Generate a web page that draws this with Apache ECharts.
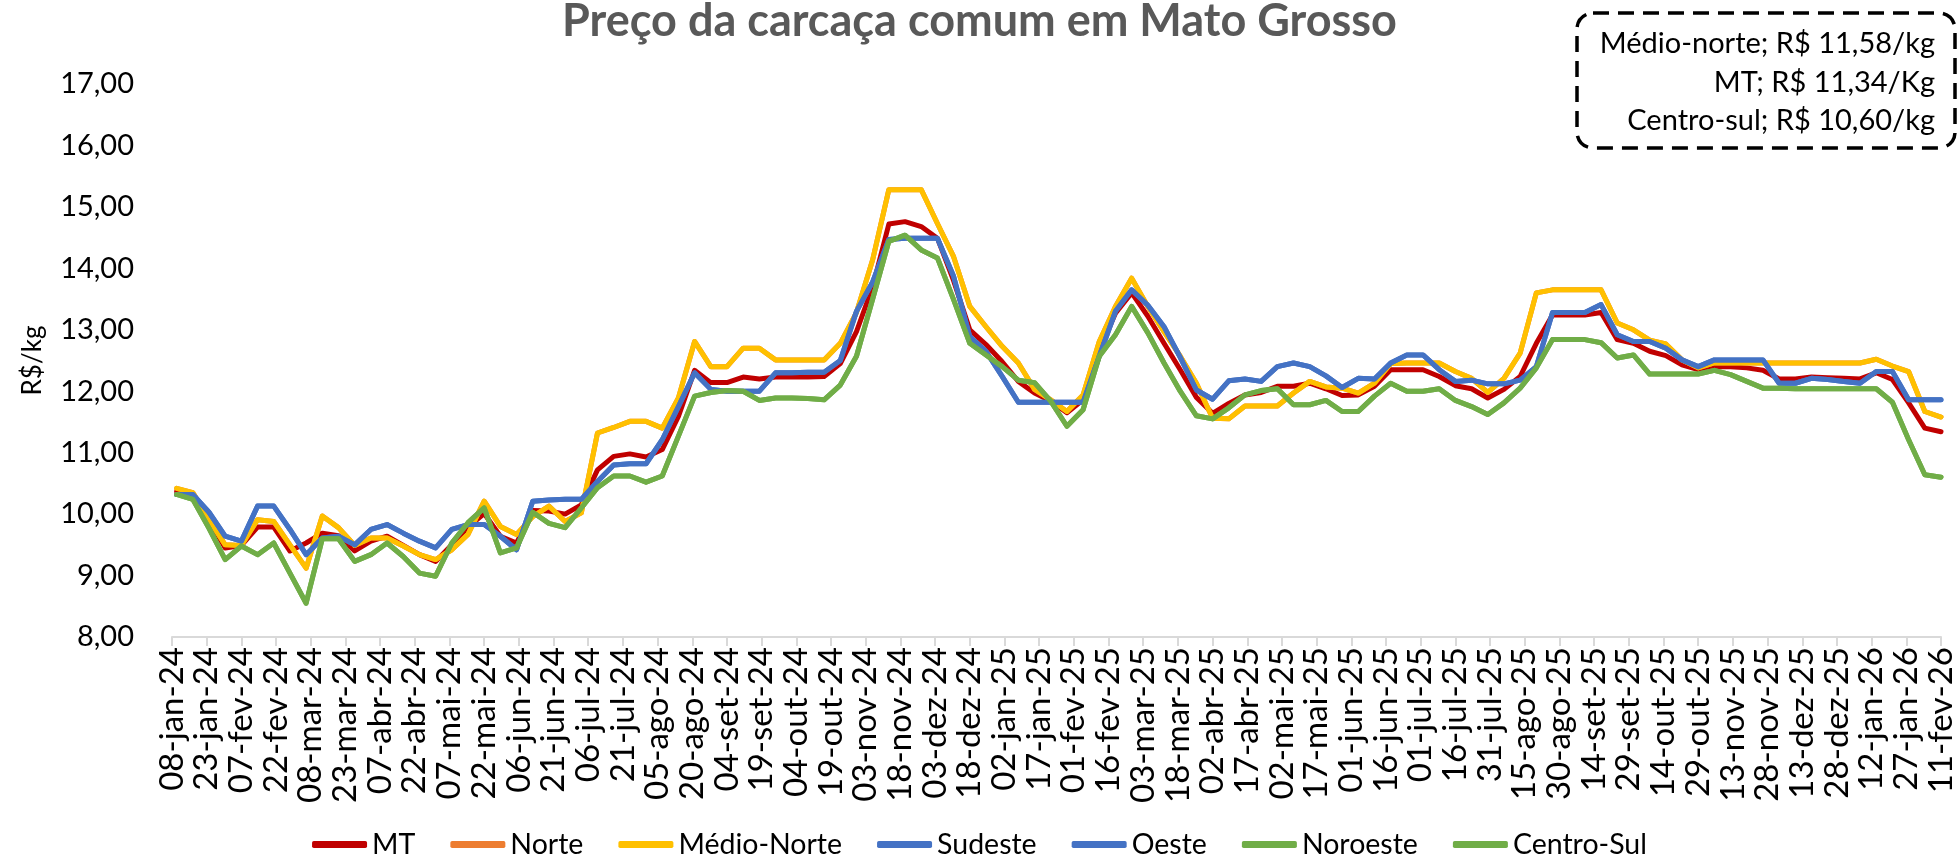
<!DOCTYPE html>
<html>
<head>
<meta charset="utf-8">
<script src="https://cdn.jsdelivr.net/npm/echarts@6/dist/echarts.min.js"></script>
<style>
html, body { margin: 0; padding: 0; background: #fff; }
#chartLine { width: 1959px; height: 860px; }
</style>
</head>
<body>
<div id="chartLine"></div>
<script>
// semanas (quartas-feiras) de 10-jan-24 a 11-fev-26
const dates = [
  '2024-01-10','2024-01-17','2024-01-24','2024-01-31','2024-02-07','2024-02-14','2024-02-21','2024-02-28','2024-03-06','2024-03-13',
  '2024-03-20','2024-03-27','2024-04-03','2024-04-10','2024-04-17','2024-04-24','2024-05-01','2024-05-08','2024-05-15','2024-05-22',
  '2024-05-29','2024-06-05','2024-06-12','2024-06-19','2024-06-26','2024-07-03','2024-07-10','2024-07-17','2024-07-24','2024-07-31',
  '2024-08-07','2024-08-14','2024-08-21','2024-08-28','2024-09-04','2024-09-11','2024-09-18','2024-09-25','2024-10-02','2024-10-09',
  '2024-10-16','2024-10-23','2024-10-30','2024-11-06','2024-11-13','2024-11-20','2024-11-27','2024-12-04','2024-12-11','2024-12-18',
  '2024-12-25','2025-01-01','2025-01-08','2025-01-15','2025-01-22','2025-01-29','2025-02-05','2025-02-12','2025-02-19','2025-02-26',
  '2025-03-05','2025-03-12','2025-03-19','2025-03-26','2025-04-02','2025-04-09','2025-04-16','2025-04-23','2025-04-30','2025-05-07',
  '2025-05-14','2025-05-21','2025-05-28','2025-06-04','2025-06-11','2025-06-18','2025-06-25','2025-07-02','2025-07-09','2025-07-16',
  '2025-07-23','2025-07-30','2025-08-06','2025-08-13','2025-08-20','2025-08-27','2025-09-03','2025-09-10','2025-09-17','2025-09-24',
  '2025-10-01','2025-10-08','2025-10-15','2025-10-22','2025-10-29','2025-11-05','2025-11-12','2025-11-19','2025-11-26','2025-12-03',
  '2025-12-10','2025-12-17','2025-12-24','2025-12-31','2026-01-07','2026-01-14','2026-01-21','2026-01-28','2026-02-04','2026-02-11'
]

const mt = [
  10.37,10.33,9.91,9.45,9.49,9.79,9.79,9.40,9.53,9.69,
  9.65,9.40,9.56,9.64,9.49,9.34,9.23,9.50,9.79,10.01,
  9.64,9.53,10.06,10.05,10.00,10.15,10.72,10.94,10.98,10.93,
  11.05,11.59,12.34,12.14,12.14,12.23,12.20,12.23,12.23,12.23,
  12.24,12.45,12.97,13.70,14.72,14.76,14.68,14.49,13.80,13.00,
  12.76,12.48,12.16,11.97,11.84,11.65,11.86,12.67,13.27,13.60,
  13.22,12.78,12.35,11.90,11.64,11.80,11.94,11.98,12.08,12.08,
  12.13,12.04,11.93,11.94,12.08,12.35,12.35,12.35,12.24,12.09,
  12.04,11.89,12.03,12.24,12.78,13.24,13.24,13.24,13.28,12.84,
  12.78,12.65,12.58,12.43,12.35,12.40,12.40,12.38,12.34,12.20,
  12.20,12.23,12.22,12.21,12.20,12.30,12.19,11.81,11.40,11.34
]
const norte = [
  10.42,10.35,9.91,9.50,9.49,9.91,9.88,9.50,9.12,9.97,
  9.78,9.49,9.61,9.61,9.48,9.34,9.26,9.42,9.67,10.21,
  9.80,9.67,9.96,10.13,9.88,10.02,11.32,11.41,11.51,11.51,
  11.40,11.89,12.81,12.40,12.40,12.70,12.70,12.51,12.51,12.51,
  12.51,12.78,13.28,14.14,15.28,15.28,15.28,14.73,14.19,13.38,
  13.05,12.73,12.46,12.03,11.86,11.67,11.94,12.81,13.38,13.84,
  13.38,12.97,12.57,12.13,11.56,11.55,11.76,11.76,11.76,11.97,
  12.16,12.07,12.05,11.97,12.13,12.45,12.46,12.46,12.46,12.32,
  12.21,11.98,12.21,12.62,13.60,13.65,13.65,13.65,13.65,13.11,
  13.00,12.83,12.77,12.51,12.38,12.46,12.46,12.46,12.46,12.46,
  12.46,12.46,12.46,12.46,12.46,12.52,12.41,12.32,11.67,11.58
]
const medioNorte = [
  10.42,10.35,9.91,9.50,9.49,9.91,9.88,9.50,9.12,9.97,
  9.78,9.49,9.61,9.61,9.48,9.34,9.26,9.42,9.67,10.21,
  9.80,9.67,9.96,10.13,9.88,10.02,11.32,11.41,11.51,11.51,
  11.40,11.89,12.81,12.40,12.40,12.70,12.70,12.51,12.51,12.51,
  12.51,12.78,13.28,14.14,15.28,15.28,15.28,14.73,14.19,13.38,
  13.05,12.73,12.46,12.03,11.86,11.67,11.94,12.81,13.38,13.84,
  13.38,12.97,12.57,12.13,11.56,11.55,11.76,11.76,11.76,11.97,
  12.16,12.07,12.05,11.97,12.13,12.45,12.46,12.46,12.46,12.32,
  12.21,11.98,12.21,12.62,13.60,13.65,13.65,13.65,13.65,13.11,
  13.00,12.83,12.77,12.51,12.38,12.46,12.46,12.46,12.46,12.46,
  12.46,12.46,12.46,12.46,12.46,12.52,12.41,12.32,11.67,11.58
]
const sudeste = [
  10.32,10.32,10.03,9.64,9.56,10.13,10.13,9.75,9.34,9.61,
  9.64,9.50,9.75,9.83,9.69,9.56,9.45,9.75,9.83,9.83,
  9.64,9.42,10.21,10.23,10.24,10.24,10.53,10.80,10.82,10.82,
  11.21,11.75,12.30,12.03,12.00,12.00,12.00,12.30,12.30,12.31,
  12.31,12.50,13.30,13.78,14.47,14.49,14.49,14.49,13.87,12.89,
  12.65,12.24,11.82,11.82,11.82,11.82,11.82,12.57,13.30,13.65,
  13.40,13.05,12.55,12.02,11.87,12.17,12.20,12.16,12.40,12.46,
  12.40,12.25,12.06,12.21,12.20,12.46,12.59,12.59,12.35,12.16,
  12.18,12.12,12.12,12.18,12.40,13.28,13.28,13.28,13.41,12.92,
  12.81,12.81,12.70,12.51,12.40,12.51,12.51,12.51,12.51,12.13,
  12.13,12.21,12.19,12.16,12.13,12.32,12.32,11.86,11.86,11.86
]
const oeste = [
  10.32,10.32,10.03,9.64,9.56,10.13,10.13,9.75,9.34,9.61,
  9.64,9.50,9.75,9.83,9.69,9.56,9.45,9.75,9.83,9.83,
  9.64,9.42,10.21,10.23,10.24,10.24,10.53,10.80,10.82,10.82,
  11.21,11.75,12.30,12.03,12.00,12.00,12.00,12.30,12.30,12.31,
  12.31,12.50,13.30,13.78,14.47,14.49,14.49,14.49,13.87,12.89,
  12.65,12.24,11.82,11.82,11.82,11.82,11.82,12.57,13.30,13.65,
  13.40,13.05,12.55,12.02,11.87,12.17,12.20,12.16,12.40,12.46,
  12.40,12.25,12.06,12.21,12.20,12.46,12.59,12.59,12.35,12.16,
  12.18,12.12,12.12,12.18,12.40,13.28,13.28,13.28,13.41,12.92,
  12.81,12.81,12.70,12.51,12.40,12.51,12.51,12.51,12.51,12.13,
  12.13,12.21,12.19,12.16,12.13,12.32,12.32,11.86,11.86,11.86
]
const noroeste = [
  10.32,10.24,9.77,9.26,9.48,9.34,9.53,9.04,8.55,9.60,
  9.60,9.23,9.34,9.53,9.31,9.04,8.99,9.53,9.86,10.10,
  9.37,9.45,10.03,9.85,9.78,10.10,10.43,10.62,10.62,10.52,
  10.62,11.27,11.92,11.98,12.01,12.00,11.85,11.89,11.89,11.88,
  11.86,12.10,12.57,13.50,14.44,14.54,14.30,14.17,13.49,12.78,
  12.59,12.40,12.18,12.14,11.84,11.43,11.70,12.57,12.92,13.38,
  12.95,12.46,12.00,11.60,11.55,11.73,11.94,12.01,12.04,11.78,
  11.78,11.85,11.67,11.67,11.92,12.13,12.00,12.00,12.04,11.85,
  11.75,11.62,11.81,12.05,12.38,12.84,12.84,12.84,12.79,12.54,
  12.59,12.28,12.28,12.28,12.28,12.34,12.27,12.16,12.05,12.05,
  12.04,12.04,12.04,12.04,12.04,12.04,11.82,11.21,10.64,10.60
]
const centroSul = [
  10.32,10.24,9.77,9.26,9.48,9.34,9.53,9.04,8.55,9.60,
  9.60,9.23,9.34,9.53,9.31,9.04,8.99,9.53,9.86,10.10,
  9.37,9.45,10.03,9.85,9.78,10.10,10.43,10.62,10.62,10.52,
  10.62,11.27,11.92,11.98,12.01,12.00,11.85,11.89,11.89,11.88,
  11.86,12.10,12.57,13.50,14.44,14.54,14.30,14.17,13.49,12.78,
  12.59,12.40,12.18,12.14,11.84,11.43,11.70,12.57,12.92,13.38,
  12.95,12.46,12.00,11.60,11.55,11.73,11.94,12.01,12.04,11.78,
  11.78,11.85,11.67,11.67,11.92,12.13,12.00,12.00,12.04,11.85,
  11.75,11.62,11.81,12.05,12.38,12.84,12.84,12.84,12.79,12.54,
  12.59,12.28,12.28,12.28,12.28,12.34,12.27,12.16,12.05,12.05,
  12.04,12.04,12.04,12.04,12.04,12.04,11.82,11.21,10.64,10.60
]

const boxLines = ['Médio-norte; R$ 11,58/kg', 'MT; R$ 11,34/Kg', 'Centro-sul; R$ 10,60/kg']
const mesesPt = ['jan','fev','mar','abr','mai','jun','jul','ago','set','out','nov','dez']

const baseDay = Date.UTC(2024, 0, 8) // inicio do eixo: 08-jan-24
const dayMs = 86400000
const font = 'Lato'

function dayOffset(s) {
  return Math.round((Date.parse(s) - baseDay) / dayMs)
}
function fmtDate(v) {
  const d = new Date(baseDay + v * dayMs)
  const dd = String(d.getUTCDate()).padStart(2, '0')
  const yy = String(d.getUTCFullYear()).slice(2)
  return dd + '-' + mesesPt[d.getUTCMonth()] + '-' + yy
}
function pairs(values) {
  return dates.map((d, i) => [dayOffset(d), values[i]])
}
function line(name, values, color) {
  return {
    name: name,
    type: 'line',
    data: pairs(values),
    symbol: 'none',
    color: color,
    lineStyle: { color: color, width: 5, cap: 'round', join: 'round' }
  }
}
function boxText(i, y) {
  return {
    type: 'text',
    x: 1935, y: y,
    style: { text: boxLines[i], align: 'right', verticalAlign: 'middle', fontFamily: font, fontSize: 29, fill: '#000' }
  }
}

const option = {
  animation: false,
  backgroundColor: '#fff',
  textStyle: { fontFamily: font },
  title: {
    text: 'Preço da carcaça comum em Mato Grosso',
    left: 'center',
    top: -6,
    textStyle: { fontFamily: font, fontSize: 45, fontWeight: 'bold', color: '#595959' }
  },
  grid: { left: 172, right: 18, top: 84, bottom: 223 },
  legend: {
    data: ['MT', 'Norte', 'Médio-Norte', 'Sudeste', 'Oeste', 'Noroeste', 'Centro-Sul'],
    left: 'center',
    top: 825,
    icon: 'roundRect',
    itemWidth: 55,
    itemHeight: 7,
    itemGap: 35,
    textStyle: { fontFamily: font, fontSize: 28.5, color: '#000' }
  },
  xAxis: {
    type: 'value',
    min: 0,
    max: 765,
    interval: 15,
    splitLine: { show: false },
    axisLine: { show: true, lineStyle: { color: '#d9d9d9', width: 2 } },
    axisTick: { show: true, length: 9, lineStyle: { color: '#d9d9d9', width: 2 } },
    axisLabel: {
      rotate: 90,
      margin: 10,
      fontFamily: font,
      fontSize: 33,
      color: '#000',
      showMinLabel: true,
      showMaxLabel: true,
      formatter: fmtDate
    }
  },
  yAxis: {
    type: 'value',
    min: 8,
    max: 17,
    interval: 1,
    name: 'R$/kg',
    nameLocation: 'middle',
    nameRotate: 90,
    nameGap: 126,
    nameTextStyle: { fontFamily: font, fontSize: 26, color: '#000' },
    splitLine: { show: false },
    axisLine: { show: false },
    axisTick: { show: false },
    axisLabel: {
      margin: 38,
      fontFamily: font,
      fontSize: 29,
      color: '#000',
      formatter: v => v.toFixed(2).replace('.', ',')
    }
  },
  graphic: [
    {
      type: 'rect',
      shape: { x: 1577, y: 13, width: 378, height: 135, r: 16 },
      style: { fill: 'none', stroke: '#000', lineWidth: 3.5, lineDash: [16, 9] }
    },
    boxText(0, 44),
    boxText(1, 83),
    boxText(2, 121)
  ],
  series: [
    line('MT', mt, '#C00000'),
    line('Norte', norte, '#ED7D31'),
    line('Médio-Norte', medioNorte, '#FFC000'),
    line('Sudeste', sudeste, '#4472C4'),
    line('Oeste', oeste, '#4472C4'),
    line('Noroeste', noroeste, '#70AD47'),
    line('Centro-Sul', centroSul, '#70AD47')
  ]
}

const myChart = echarts.init(document.getElementById('chartLine'))
myChart.setOption(option)
</script>
</body>
</html>
